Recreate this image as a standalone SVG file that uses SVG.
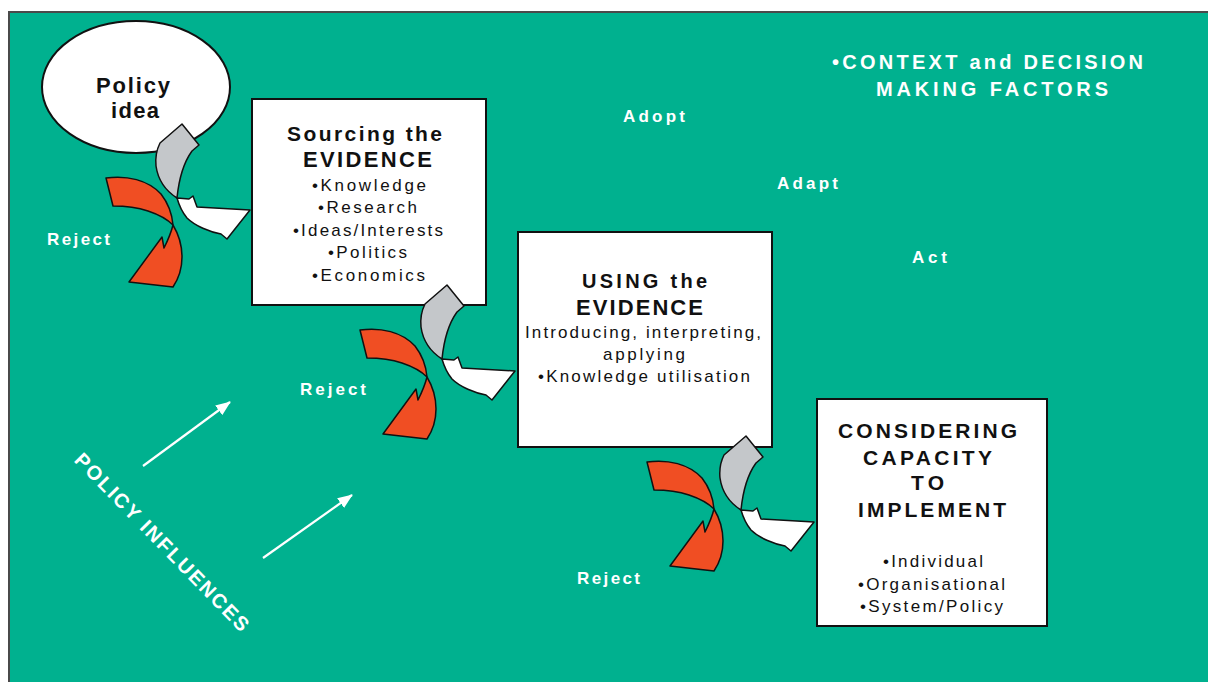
<svg xmlns="http://www.w3.org/2000/svg" xmlns:xlink="http://www.w3.org/1999/xlink" width="1208" height="682" viewBox="0 0 1208 682">
<style>
.box{fill:#fff;stroke:#111;stroke-width:2}
.t{font-family:"Liberation Sans",Arial,sans-serif;fill:#111}
.b{font-weight:bold}
.w{font-family:"Liberation Sans",Arial,sans-serif;fill:#fff;font-weight:bold}
.sh{stroke:#111;stroke-width:1.5;stroke-linejoin:round}
.infl{stroke:#fff;stroke-width:2.2;fill:none}
</style>
<defs>
<marker id="ah" markerUnits="userSpaceOnUse" markerWidth="16" markerHeight="12" refX="14" refY="6" orient="auto">
<path d="M0,0 L15,6 L0,12 Z" fill="#fff"/>
</marker>
<g id="gw">
<path class="sh" fill="#c4c7ca" d="M160,143 L182,124 L199,145 L192,151 C184,162 179,178 177,198 C166,191 158,180 156,166 C155,156 157,149 160,143 Z"/>
<path class="sh" fill="#fff" d="M177,198 L189,199 L193,196 L197,207 L250,210 L227,239 L221,234 C210,232 195,226 187,218 C182,212 179,205 177,198 Z"/>
</g>
<g id="rd">
<path class="sh" fill="#f04e23" d="M106,178 C127,175 148,180 161,194 C168,203 172,213 173,225 C167,219 160,215 148,211 C136,207 124,206 113,206 Z"/>
<path class="sh" fill="#f04e23" d="M173,225 C179,235 182,246 182,257 C182,268 179,278 173,287 L129,282 L162,237 L164,248 C168,240 171,233 173,225 Z"/>
</g>
</defs>
<rect x="0" y="0" width="1208" height="682" fill="#fff"/>
<rect x="9" y="12" width="1215" height="690" fill="#00b18f" stroke="#4a4a4a" stroke-width="2"/>

<g id="policy-idea">
<ellipse cx="136" cy="87" rx="94" ry="66" class="box"/>
<text class="t b" font-size="22" x="96" y="93" textLength="74" lengthAdjust="spacing">Policy</text>
<text class="t b" font-size="22" x="111" y="118" textLength="48" lengthAdjust="spacing">idea</text>
</g>

<g id="sourcing">
<rect x="252" y="99" width="234" height="206" class="box"/>
<text class="t b" font-size="21" x="287" y="141" textLength="155" lengthAdjust="spacing">Sourcing the</text>
<text class="t b" font-size="22" x="303" y="167" textLength="129" lengthAdjust="spacing">EVIDENCE</text>
<text class="t" font-size="17" x="312" y="191" textLength="114" lengthAdjust="spacing">•Knowledge</text>
<text class="t" font-size="17" x="318" y="213" textLength="99" lengthAdjust="spacing">•Research</text>
<text class="t" font-size="17" x="293" y="236" textLength="150" lengthAdjust="spacing">•Ideas/Interests</text>
<text class="t" font-size="17" x="328" y="258" textLength="79" lengthAdjust="spacing">•Politics</text>
<text class="t" font-size="17" x="312" y="281" textLength="113" lengthAdjust="spacing">•Economics</text>
</g>

<g id="using">
<rect x="518" y="232" width="254" height="215" class="box"/>
<text class="t b" font-size="20" x="582" y="288" textLength="125" lengthAdjust="spacing">USING the</text>
<text class="t b" font-size="22" x="576" y="315" textLength="127" lengthAdjust="spacing">EVIDENCE</text>
<text class="t" font-size="17" x="525" y="338" textLength="236" lengthAdjust="spacing">Introducing, interpreting,</text>
<text class="t" font-size="17" x="603" y="360" textLength="82" lengthAdjust="spacing">applying</text>
<text class="t" font-size="17" x="538" y="382" textLength="212" lengthAdjust="spacing">•Knowledge utilisation</text>
</g>

<g id="considering">
<rect x="817" y="399" width="230" height="227" class="box"/>
<text class="t b" font-size="21" x="838" y="438" textLength="179" lengthAdjust="spacing">CONSIDERING</text>
<text class="t b" font-size="21" x="863" y="465" textLength="129" lengthAdjust="spacing">CAPACITY</text>
<text class="t b" font-size="21" x="911" y="490" textLength="33" lengthAdjust="spacing">TO</text>
<text class="t b" font-size="21" x="858" y="517" textLength="148" lengthAdjust="spacing">IMPLEMENT</text>
<text class="t" font-size="17" x="883" y="567" textLength="100" lengthAdjust="spacing">•Individual</text>
<text class="t" font-size="17" x="858" y="590" textLength="147" lengthAdjust="spacing">•Organisational</text>
<text class="t" font-size="17" x="860" y="612" textLength="143" lengthAdjust="spacing">•System/Policy</text>
</g>

<g id="connectors">
<use xlink:href="#gw"/>
<use xlink:href="#rd"/>
<use xlink:href="#gw" transform="translate(265,161)"/>
<use xlink:href="#rd" transform="translate(254,152)"/>
<use xlink:href="#gw" transform="translate(564,312)"/>
<use xlink:href="#rd" transform="translate(541,284)"/>
<line class="infl" x1="143" y1="466" x2="230" y2="402" marker-end="url(#ah)"/>
<line class="infl" x1="263" y1="558" x2="352" y2="495" marker-end="url(#ah)"/>
</g>

<g id="labels">
<text class="w" font-size="17" x="47" y="245" textLength="63" lengthAdjust="spacing">Reject</text>
<text class="w" font-size="17" x="300" y="395" textLength="66" lengthAdjust="spacing">Reject</text>
<text class="w" font-size="17" x="577" y="584" textLength="63" lengthAdjust="spacing">Reject</text>
<text class="w" font-size="17" x="623" y="122" textLength="62" lengthAdjust="spacing">Adopt</text>
<text class="w" font-size="17" x="777" y="189" textLength="61" lengthAdjust="spacing">Adapt</text>
<text class="w" font-size="17" x="912" y="263" textLength="35" lengthAdjust="spacing">Act</text>
<text class="w" font-size="20" x="832" y="69" textLength="311" lengthAdjust="spacing">•CONTEXT and DECISION</text>
<text class="w" font-size="20" x="876" y="96" textLength="232" lengthAdjust="spacing">MAKING FACTORS</text>
<text class="w" font-size="20" x="0" y="0" text-anchor="middle" transform="translate(157,547) rotate(45.7)" textLength="240" lengthAdjust="spacing">POLICY INFLUENCES</text>
</g>
</svg>
